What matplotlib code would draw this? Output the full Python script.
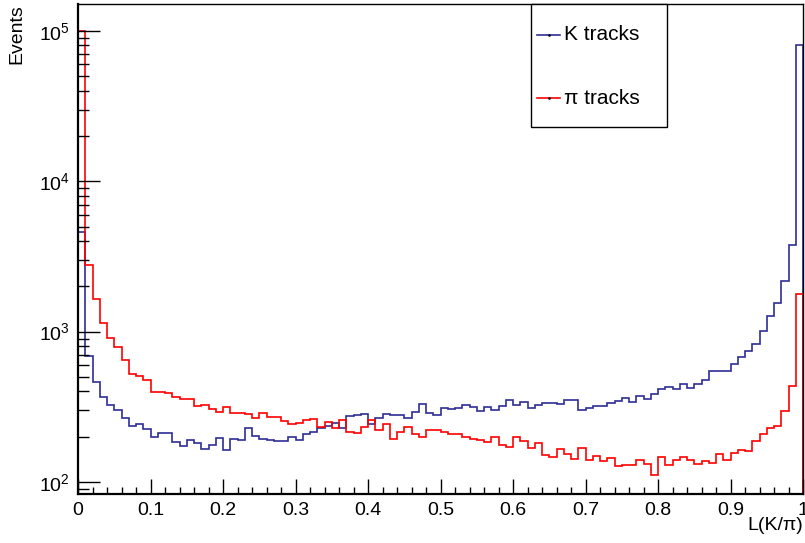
import numpy as np
import matplotlib
matplotlib.use('Agg')
import matplotlib.pyplot as plt
from matplotlib.lines import Line2D
from matplotlib.patches import Rectangle
from matplotlib.ticker import LogLocator, FixedLocator, MultipleLocator

plt.rcParams['font.family'] = ['Liberation Sans', 'DejaVu Sans']

# 100 bins of L(K/pi) in [0, 1]
edges = np.linspace(0, 1, 101)

k_tracks = [4630, 689, 461, 370, 325, 301, 265, 236, 243, 224, 198, 213, 211, 185, 174, 190, 182,
            167, 176, 196, 163, 192, 191, 228, 202, 193, 190, 188, 188, 200, 191, 209, 214, 230,
            236, 246, 230, 275, 278, 282, 243, 265, 285, 278, 278, 267, 291, 329, 289, 280,
            312, 307, 312, 324, 317, 298, 315, 301, 319, 350, 324, 339, 310, 325, 336, 337,
            328, 350, 353, 303, 309, 319, 320, 334, 348, 361, 342, 373, 357, 383, 418, 431,
            417, 451, 420, 446, 477, 550, 550, 546, 607, 682, 748, 833, 1006, 1271, 1545, 2164, 3760, 81000]

pi_tracks = [100000, 2780, 1640, 1137, 904, 795, 649, 523, 507, 477, 399, 397, 393, 370, 355, 358, 320,
             327, 307, 292, 315, 289, 288, 285, 267, 289, 269, 271, 255, 243, 248, 260, 264, 232,
             250, 229, 257, 216, 211, 231, 259, 222, 242, 192, 214, 233, 209, 198, 222, 223,
             216, 207, 209, 200, 192, 190, 185, 198, 175, 170, 200, 188, 168, 183, 151, 147,
             167, 154, 142, 168, 141, 149, 137, 144, 128, 130, 129, 141, 132, 111, 146, 130,
             141, 146, 140, 132, 138, 134, 154, 140, 157, 162, 161, 187, 209, 229, 237, 295, 437, 1790]

x_ticks = [0, 0.1, 0.2, 0.3, 0.4, 0.5, 0.6, 0.7, 0.8, 0.9, 1.0]
x_labels = ['0', '0.1', '0.2', '0.3', '0.4', '0.5', '0.6', '0.7', '0.8', '0.9', '1']

blue = '#2e2e96'
red = '#ff0000'

W, H = 805, 543
fig = plt.figure(figsize=(W / 100, H / 100), dpi=100)
ax = fig.add_axes([78 / W, 1 - 494 / H, (803 - 78) / W, 490 / H])

ax.stairs(k_tracks, edges, baseline=1e-3, color=blue, lw=1.2)
ax.stairs(pi_tracks, edges, baseline=1e-3, color=red, lw=1.2)

ax.set_yscale('log')
ax.set_xlim(0, 1)
ax.set_ylim(83.2, 151000)

ax.xaxis.set_major_locator(FixedLocator(x_ticks))
ax.set_xticklabels(x_labels)
ax.xaxis.set_minor_locator(MultipleLocator(0.02))
ax.yaxis.set_major_locator(LogLocator(base=10, numticks=10))
ax.yaxis.set_minor_locator(LogLocator(base=10, subs=np.arange(2, 10), numticks=20))

ax.tick_params(axis='both', which='both', direction='in', top=False, right=False,
               labelsize=14, color='black', width=1)
ax.tick_params(axis='y', which='major', length=15.6, pad=6)
ax.tick_params(axis='y', which='minor', length=7.7)
ax.tick_params(axis='x', which='major', length=10.5, pad=6)
ax.tick_params(axis='x', which='minor', length=5.3)

for side in ['left', 'bottom']:
    ax.spines[side].set_linewidth(1.6)
for side in ['top', 'right']:
    ax.spines[side].set_linewidth(1.0)

ax.set_ylabel('Events', loc='top', fontsize=14)
ax.yaxis.set_label_coords(-0.072, 1.0)
ax.set_xlabel('L(K/π)', loc='right', fontsize=14)
ax.xaxis.set_label_coords(1.0, -0.046)

# legend box in ROOT style
fig.patches.append(Rectangle((531 / W, 1 - 127 / H), 136 / W, 123 / H, transform=fig.transFigure,
                             facecolor='white', edgecolor='black', lw=1.0, zorder=5))
for yy, col, lab in [(35, blue, 'K tracks'), (98, red, 'π tracks')]:
    fig.lines.append(Line2D([537 / W, 560 / W], [1 - yy / H, 1 - yy / H], transform=fig.transFigure,
                            color=col, lw=1.2, zorder=6))
    fig.lines.append(Line2D([548.5 / W], [1 - yy / H], transform=fig.transFigure, marker='s',
                            markersize=0.8, color='black', lw=0, zorder=7))
    fig.text(564 / W, 1 - yy / H, lab, fontsize=15, va='center', ha='left', zorder=7)

fig.savefig('out.png', dpi=100)
